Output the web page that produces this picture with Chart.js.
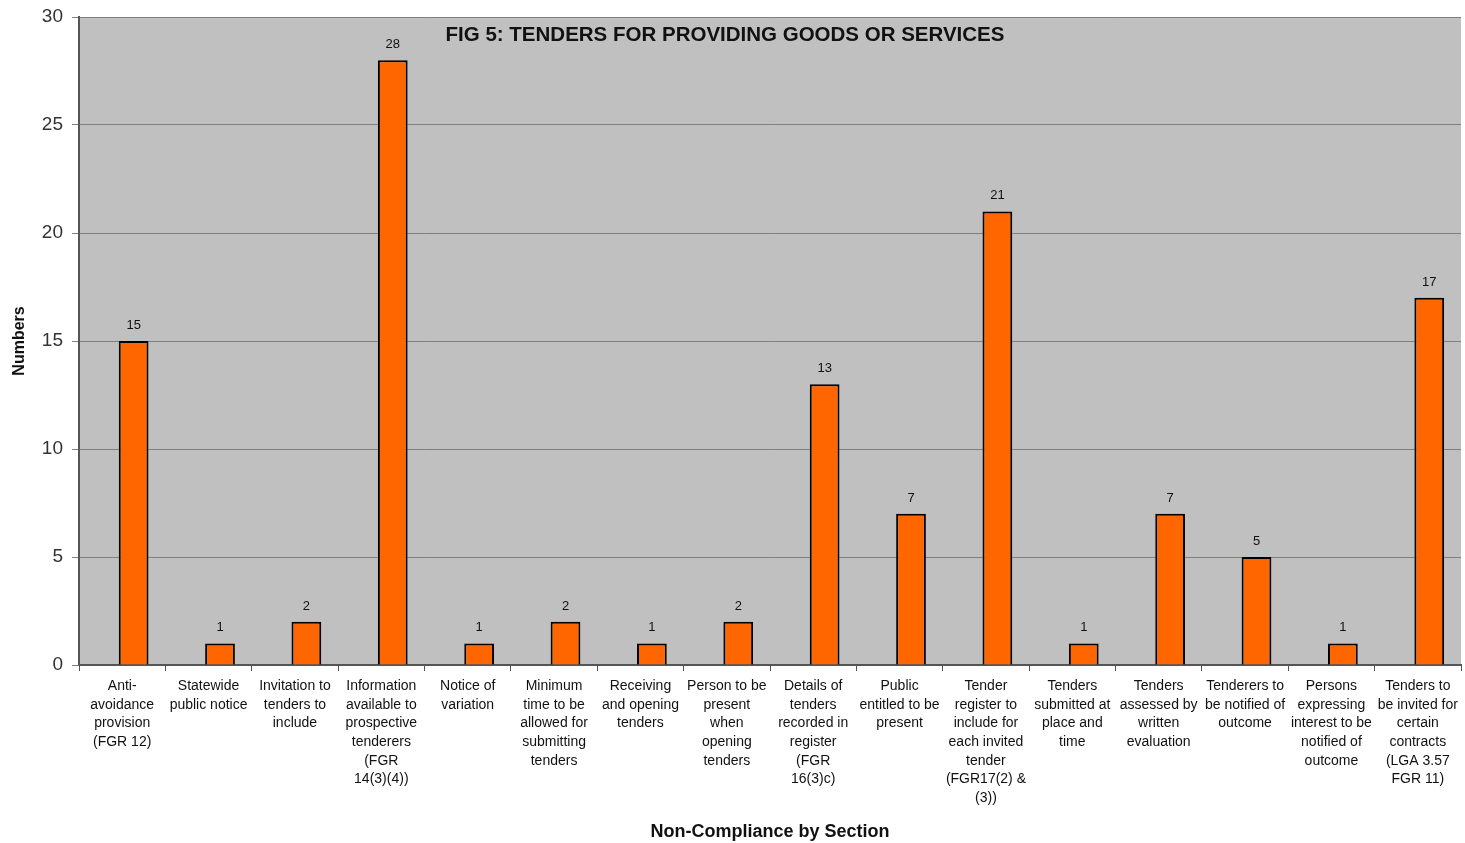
<!DOCTYPE html>
<html>
<head>
<meta charset="utf-8">
<script src="https://cdn.jsdelivr.net/npm/chart.js@4.4.1/dist/chart.umd.min.js"></script>
<style>
  html, body { margin: 0; padding: 0; background: #fff; }
  #wrap { width: 1465px; height: 843px; }
</style>
</head>
<body>
<div id="wrap"><canvas id="tendersChart" width="1465" height="843"></canvas></div>
<script>
// Category labels (multi-line, as in the figure)
const sections = [
  ["Anti-", "avoidance", "provision", "(FGR 12)"],
  ["Statewide", "public notice"],
  ["Invitation to", "tenders to", "include"],
  ["Information", "available to", "prospective", "tenderers", "(FGR", "14(3)(4))"],
  ["Notice of", "variation"],
  ["Minimum", "time to be", "allowed for", "submitting", "tenders"],
  ["Receiving", "and opening", "tenders"],
  ["Person to be", "present", "when", "opening", "tenders"],
  ["Details of", "tenders", "recorded in", "register", "(FGR", "16(3)c)"],
  ["Public", "entitled to be", "present"],
  ["Tender", "register to", "include for", "each invited", "tender", "(FGR17(2) &", "(3))"],
  ["Tenders", "submitted at", "place and", "time"],
  ["Tenders", "assessed by", "written", "evaluation"],
  ["Tenderers to", "be notified of", "outcome"],
  ["Persons", "expressing", "interest to be", "notified of", "outcome"],
  ["Tenders to", "be invited for", "certain", "contracts", "(LGA 3.57", "FGR 11)"],
];

// Number of non-compliances per section
const counts = [15, 1, 2, 28, 1, 2, 1, 2, 13, 7, 21, 1, 7, 5, 1, 17];

// The original sheet had an empty series before this one, which pushes each bar right of centre
const emptySeries = [null, null, null, null, null, null, null, null,
                     null, null, null, null, null, null, null, null];

const yTicks = [0, 5, 10, 15, 20, 25, 30];

const FONT = "'Liberation Sans', Arial, sans-serif";

// Gray plot background + title drawn inside the plot area
const plotBackground = {
  id: "plotBackground",
  beforeDraw(chart) {
    const { ctx, chartArea } = chart;
    ctx.save();
    ctx.fillStyle = "#c0c0c0";
    ctx.fillRect(chartArea.left, chartArea.top, chartArea.right - chartArea.left, chartArea.bottom - chartArea.top);
    ctx.restore();
  },
  afterDraw(chart) {
    const { ctx, chartArea } = chart;
    ctx.save();
    ctx.fillStyle = "#111";
    ctx.font = "bold 20.5px " + FONT;
    ctx.textAlign = "center";
    ctx.textBaseline = "middle";
    ctx.fillText("FIG 5: TENDERS FOR PROVIDING GOODS OR SERVICES", 725, chartArea.top + 18);
    ctx.restore();
  }
};

// Value labels above each bar
const valueLabels = {
  id: "valueLabels",
  afterDatasetsDraw(chart) {
    const { ctx } = chart;
    const meta = chart.getDatasetMeta(1);
    ctx.save();
    ctx.fillStyle = "#111";
    ctx.font = "13px " + FONT;
    ctx.textAlign = "center";
    ctx.textBaseline = "bottom";
    meta.data.forEach((bar, i) => {
      ctx.fillText(String(counts[i]), bar.x, bar.y - 9);
    });
    ctx.restore();
  }
};

document.addEventListener("DOMContentLoaded", function () {
  const ctx = document.getElementById("tendersChart").getContext("2d");

  new Chart(ctx, {
    type: "bar",
    data: {
      labels: sections,
      datasets: [{
        label: "",
        data: emptySeries,
        barPercentage: 1.3,
        categoryPercentage: 0.53,
      }, {
        label: "Numbers",
        data: counts,
        backgroundColor: "#ff6600",
        borderColor: "#000000",
        borderWidth: 2,
        borderSkipped: "bottom",
        barPercentage: 1.3,
        categoryPercentage: 0.53,
      }],
    },
    options: {
      responsive: false,
      animation: false,
      layout: { padding: { top: 17, right: 4, left: 0, bottom: 0 } },
      plugins: {
        legend: { display: false },
        tooltip: { enabled: false },
        title: { display: false },
      },
      scales: {
        x: {
          offset: true,
          grid: {
            offset: true,
            drawOnChartArea: false,
            color: "#555",
            tickLength: 6,
          },
          border: { color: "#555", width: 2 },
          ticks: {
            color: "#111",
            font: { family: FONT, size: 14, lineHeight: 1.33 },
            maxRotation: 0,
            autoSkip: false,
            padding: 6,
          },
          title: {
            display: true,
            text: "Non-Compliance by Section",
            color: "#111",
            font: { family: FONT, size: 18, weight: "bold" },
            padding: { top: 4, bottom: 0 },
          },
          afterFit(scale) { scale.height = 178; },
        },
        y: {
          min: 0,
          max: 30,
          afterBuildTicks(scale) { scale.ticks = yTicks.map(v => ({ value: v })); },
          grid: {
            color: "#7f7f7f",
            lineWidth: 1,
            tickLength: 7,
          },
          border: { color: "#555", width: 2 },
          ticks: {
            color: "#333",
            font: { family: FONT, size: 19, lineHeight: 0.6 },
            padding: 9,
          },
          title: {
            display: true,
            text: "Numbers",
            color: "#111",
            font: { family: FONT, size: 16, weight: "bold" },
            padding: { top: 10, bottom: 4 },
          },
          afterFit(scale) { scale.width = 79; },
        },
      },
    },
    plugins: [plotBackground, valueLabels],
  });
});
</script>
</body>
</html>
